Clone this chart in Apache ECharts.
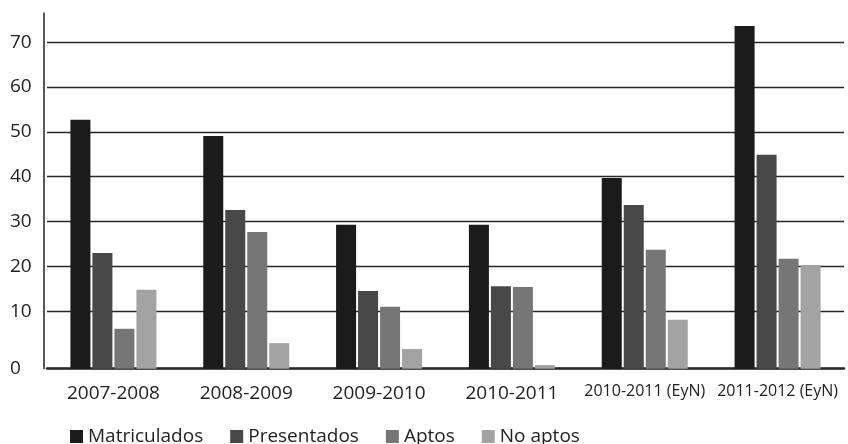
<!DOCTYPE html>
<html>
<head>
<meta charset="utf-8">
<script src="https://cdn.jsdelivr.net/npm/echarts@6/dist/echarts.min.js"></script>
<style>html,body{margin:0;padding:0;background:#fff}#c{width:848px;height:444px}</style>
</head>
<body>
<div id="c"></div>
<script>
const categories = ['2007-2008', '2008-2009', '2009-2010', '2010-2011', '2010-2011 (EyN)', '2011-2012 (EyN)'];
const seriesNames = ['Matriculados', 'Presentados', 'Aptos', 'No aptos'];
const matriculados = [52.7, 49.1, 29.3, 29.3, 39.7, 73.6];
const presentados = [23.0, 32.6, 14.5, 15.6, 33.7, 44.9];
const aptos = [6.1, 27.7, 11.0, 15.4, 23.7, 21.7];
const noAptos = [14.8, 2.9, 1.6, -2.0, 8.1, 20.3];
const yTickValues = [-2.8, 10, 20, 30, 40, 50, 60, 70];
const yMin = -2.8;
const yMax = 76.5;

const colors = ['#1b1b1b', '#484848', '#767676', '#a3a3a3'];
const values = [matriculados, presentados, aptos, noAptos];
const font = '"Open Sans", "Noto Sans", sans-serif';

const chart = echarts.init(document.getElementById('c'), null, { renderer: 'canvas' });
chart.setOption({
  animation: false,
  color: colors,
  textStyle: { fontFamily: font },
  grid: { left: 47, right: 4, top: 13, bottom: 75.3, containLabel: false },
  legend: {
    data: seriesNames,
    left: 65,
    top: 422,
    icon: 'rect',
    itemWidth: 13,
    itemHeight: 13,
    itemGap: 27,
    textStyle: { fontSize: 19, color: '#222', fontFamily: font, padding: [0, 0, 0, 0] }
  },
  xAxis: {
    type: 'category',
    data: categories.map((c, i) => ({ value: c, textStyle: { fontSize: i >= 4 ? 16 : 19 } })),
    axisLine: { show: true, onZero: false, lineStyle: { color: '#2a2a2a', width: 2.5 } },
    axisTick: { show: false },
    axisLabel: { color: '#222', margin: 15, fontFamily: font, interval: 0 },
    splitLine: { show: false }
  },
  yAxis: {
    type: 'value',
    min: yMin,
    max: yMax,
    startValue: yMin,
    offset: 3,
    axisLine: { show: true, lineStyle: { color: '#222', width: 1.5 } },
    axisTick: { show: false, customValues: yTickValues },
    axisLabel: {
      customValues: yTickValues,
      align: 'left',
      margin: 34,
      fontSize: 19,
      color: '#222',
      fontFamily: font,
      formatter: v => (v < 0 ? '0' : String(v))
    },
    splitLine: { show: true, lineStyle: { color: '#262626', width: 1.4 } }
  },
  series: seriesNames.map((name, i) => ({
    name: name,
    type: 'bar',
    data: values[i],
    barWidth: 20,
    barGap: '10%',
    itemStyle: { color: colors[i] }
  }))
});
</script>
</body>
</html>
